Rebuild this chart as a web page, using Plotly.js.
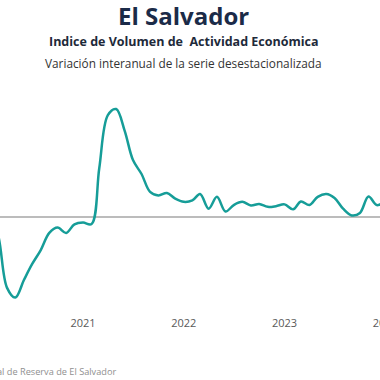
<!DOCTYPE html>
<html>
<head>
<meta charset="utf-8">
<script src="https://cdn.plot.ly/plotly-3.0.1.min.js"></script>
<style>
html,body{margin:0;padding:0;width:380px;height:380px;overflow:hidden;background:#fff;}
#chart{position:absolute;left:-100px;top:0;width:580px;height:380px;}
</style>
</head>
<body>
<div id="chart"></div>
<script>
// Data: year-on-year variation of the seasonally adjusted IVAE (%)
const months = [
  '2020-01-01','2020-02-01','2020-03-01','2020-04-01','2020-05-01','2020-06-01',
  '2020-07-01','2020-08-01','2020-09-01','2020-10-01','2020-11-01','2020-12-01',
  '2021-01-01','2021-02-01','2021-03-01','2021-04-01','2021-05-01','2021-06-01',
  '2021-07-01','2021-08-01','2021-09-01','2021-10-01','2021-11-01','2021-12-01',
  '2022-01-01','2022-02-01','2022-03-01','2022-04-01','2022-05-01','2022-06-01',
  '2022-07-01','2022-08-01','2022-09-01','2022-10-01','2022-11-01','2022-12-01',
  '2023-01-01','2023-02-01','2023-03-01','2023-04-01','2023-05-01','2023-06-01',
  '2023-07-01','2023-08-01','2023-09-01','2023-10-01','2023-11-01','2023-12-01',
  '2024-01-01','2024-02-01'
];
const variacion = [
  1.3, 0.7, -5.7, -20.0, -22.7, -17.8,
  -13.3, -9.4, -4.6, -3.1, -4.6, -2.2,
  -1.7, -2.1, 13.6, 28.4, 30.1, 24.0,
  15.8, 11.9, 6.9, 5.9, 6.6, 5.0,
  4.1, 4.5, 6.3, 2.2, 5.5, 1.4,
  3.2, 4.1, 3.1, 3.5, 2.7, 2.9,
  3.4, 2.0, 4.2, 3.2, 5.5, 6.3,
  5.2, 2.2, 0.3, 1.0, 5.6, 3.2,
  4.1, 4.6
];
const yearTicks = ['2021-01-01','2022-01-01','2023-01-01','2024-01-01'];
const yearLabels = ['2021','2022','2023','2024'];

const titleText = 'El Salvador';
const subtitle1 = 'Indice de Volumen de  Actividad Económica';
const subtitle2 = 'Variación interanual de la serie desestacionalizada';
const sourceText = 'Fuente: Banco Central de Reserva de El Salvador';

// geometry (div is 580 wide, shifted 100px left of the page)
const divLeft = -100, W = 580, H = 380;
const mT = 90, mB = 70;
const plotH = H - mT - mB;
const px2x = p => (p - divLeft) / W;
const py2y = p => (H - mB - p) / plotH;

// x range so that 1 Jan 2021 sits at page x=83 with ~100.85 px per year
const t0 = Date.UTC(2021,0,1);
const pxPerMs = 100.85 / (365.25*86400000);
const fmt = ms => new Date(ms).toISOString().replace('T',' ').replace('Z','');
const xr = [fmt(t0 - (83 - divLeft)/pxPerMs), fmt(t0 + (divLeft + W - 83)/pxPerMs)];

// y range: zero at page y=216.5, 3.57 px per point
const pxPerUnit = 3.57;
const zeroFrac = py2y(216.5);
const span = plotH / pxPerUnit;
const yr = [-zeroFrac*span, (1-zeroFrac)*span];

const trace = {
  x: months, y: variacion, type: 'scatter', mode: 'lines',
  line: {color: '#169d98', width: 2.5, shape: 'spline', smoothing: 1},
  hoverinfo: 'skip'
};

const cx = px2x(183.5);
const layout = {
  width: W, height: H,
  margin: {l: 0, r: 0, t: mT, b: mB, pad: 0},
  paper_bgcolor: '#ffffff', plot_bgcolor: '#ffffff',
  showlegend: false,
  xaxis: {
    type: 'date', range: xr, showgrid: false, zeroline: false, showline: false,
    tickmode: 'array', tickvals: yearTicks, ticktext: yearLabels,
    ticks: '', ticklabelstandoff: 5,
    tickfont: {family: 'Open Sans, sans-serif', size: 11, color: '#595959'},
    fixedrange: true
  },
  yaxis: {
    range: yr, showgrid: false, showticklabels: false, ticks: '',
    zeroline: true, zerolinecolor: '#bcbcbc', zerolinewidth: 2, showline: false,
    fixedrange: true
  },
  annotations: [
    {text: '<b>' + titleText + '</b>', xref: 'paper', yref: 'paper', x: cx, y: py2y(16),
     xanchor: 'center', yanchor: 'middle', showarrow: false,
     font: {family: 'Open Sans, sans-serif', size: 24, color: '#1b2b48'}},
    {text: '<b>' + subtitle1.replace('  ', '&nbsp; ') + '</b>', xref: 'paper', yref: 'paper', x: cx, y: py2y(41),
     xanchor: 'center', yanchor: 'middle', showarrow: false,
     font: {family: 'Open Sans, sans-serif', size: 12.5, color: '#1e2a3a'}},
    {text: subtitle2, xref: 'paper', yref: 'paper', x: cx, y: py2y(62.5),
     xanchor: 'center', yanchor: 'middle', showarrow: false,
     font: {family: 'Open Sans, sans-serif', size: 11.8, color: '#333333'}},
    {text: sourceText, xref: 'paper', yref: 'paper', x: px2x(118), y: py2y(371),
     xanchor: 'right', yanchor: 'middle', showarrow: false,
     font: {family: 'Open Sans, sans-serif', size: 9.2, color: '#8f8f8f'}}
  ]
};

Plotly.newPlot('chart', [trace], layout, {staticPlot: true, displayModeBar: false});
</script>
</body>
</html>
